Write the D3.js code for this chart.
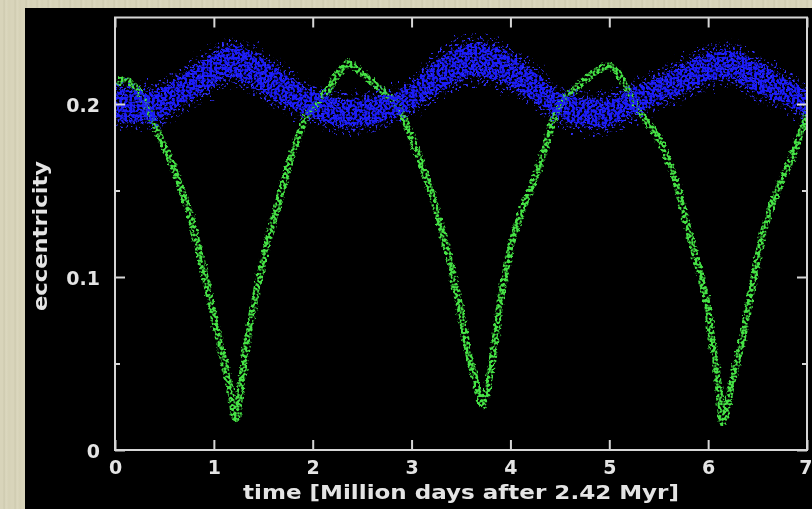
<!DOCTYPE html>
<html>
<head>
<meta charset="utf-8">
<script src="https://cdn.jsdelivr.net/npm/d3@7"></script>
<style>
  html, body { margin: 0; padding: 0; }
  body {
    width: 812px; height: 509px; overflow: hidden;
    background: repeating-linear-gradient(90deg, #d8d4ba 0px, #d8d4ba 3px, #cdc9ae 4px, #dcd8bf 6px, #d5d1b6 9px, #d8d4ba 11px);
  }
  svg { display: block; }
  .tick text, .label { font-family: "DejaVu Sans", sans-serif; font-weight: bold; fill: #e4e4e4; }
</style>
</head>
<body>
<svg id="chart" width="812" height="509"></svg>
<script>
// Time axis: million days after 2.42 Myr
const xTicks = [0, 1, 2, 3, 4, 5, 6, 7];
const xTickLabels = ["0", "1", "2", "3", "4", "5", "6", "7"];
const yTicks = [0, 0.1, 0.2];
const yTickLabels = ["0", "0.1", "0.2"];
const yMinorTicks = [0.05, 0.15];

// Inner orbit (green): eccentricity vs time
const greenT = [0, 0.1, 0.2, 0.3, 0.4, 0.5, 0.6, 0.7, 0.8, 0.9, 1.0, 1.1, 1.17, 1.22,
  1.28, 1.34, 1.44, 1.54, 1.64, 1.74, 1.84, 1.93, 2.02, 2.15, 2.29, 2.35,
  2.49, 2.66, 2.83, 2.92, 3.0, 3.08, 3.2, 3.3, 3.4, 3.5, 3.59, 3.66, 3.72,
  3.78, 3.84, 3.9, 3.97, 4.06, 4.16, 4.26, 4.36, 4.45, 4.55, 4.66, 4.8, 4.93, 5.0,
  5.08, 5.18, 5.27, 5.37, 5.5, 5.58, 5.68, 5.8, 5.9, 5.98, 6.04, 6.1, 6.15,
  6.24, 6.33, 6.43, 6.55, 6.69, 6.85, 6.93, 7.0];
const greenE = [0.212, 0.214, 0.210, 0.201, 0.188, 0.175, 0.162, 0.146, 0.127, 0.103, 0.077, 0.052, 0.034, 0.018,
  0.040, 0.064, 0.094, 0.119, 0.141, 0.161, 0.179, 0.192, 0.199, 0.208, 0.220, 0.224,
  0.218, 0.210, 0.201, 0.192, 0.181, 0.168, 0.149, 0.128, 0.106, 0.079, 0.052, 0.038, 0.026,
  0.040, 0.062, 0.087, 0.109, 0.129, 0.145, 0.159, 0.176, 0.194, 0.203, 0.209, 0.216, 0.221, 0.222,
  0.218, 0.209, 0.199, 0.191, 0.180, 0.170, 0.154, 0.127, 0.106, 0.087, 0.063, 0.040, 0.016,
  0.039, 0.060, 0.090, 0.124, 0.149, 0.169, 0.182, 0.196];

// Outer orbit (blue): lower and upper edge of the scattered band
const blueT = [0, 0.35, 0.68, 0.9, 1.18, 1.52, 1.95, 2.35, 2.86, 3.36, 3.64, 4.16, 4.49, 4.9, 5.33, 5.84, 6.18, 6.52, 6.85, 7.0];
const blueLow = [0.189, 0.188, 0.198, 0.205, 0.214, 0.204, 0.192, 0.185, 0.192, 0.208, 0.214, 0.204, 0.191, 0.185, 0.195, 0.208, 0.214, 0.204, 0.197, 0.191];
const blueHigh = [0.211, 0.209, 0.218, 0.227, 0.235, 0.227, 0.210, 0.204, 0.208, 0.231, 0.237, 0.224, 0.208, 0.204, 0.212, 0.227, 0.233, 0.225, 0.214, 0.208];

const svg = d3.select("#chart");
const W = 812, H = 509;
const plot = { left: 115, right: 807, top: 17.5, bottom: 450 };

const x = d3.scaleLinear().domain([0, 7]).range([plot.left, plot.right]);
const y = d3.scaleLinear().domain([0, 0.25]).range([plot.bottom, plot.top]);

const defs = svg.append("defs");
defs.append("clipPath").attr("id", "plotClip")
  .append("rect").attr("x", plot.left + 1).attr("y", plot.top + 1)
  .attr("width", plot.right - plot.left - 2).attr("height", plot.bottom - plot.top - 2);

// Speckle filter: jitter the shape and break it into small dots
function speckle(id, freq, disp, gain, offset, seed, blur) {
  const f = defs.append("filter").attr("id", id)
    .attr("filterUnits", "userSpaceOnUse")
    .attr("x", 0).attr("y", 0).attr("width", W).attr("height", H);
  f.append("feTurbulence").attr("type", "fractalNoise").attr("baseFrequency", 0.3)
    .attr("numOctaves", 2).attr("seed", seed).attr("result", "warp");
  f.append("feDisplacementMap").attr("in", "SourceGraphic").attr("in2", "warp")
    .attr("scale", disp).attr("xChannelSelector", "R").attr("yChannelSelector", "G").attr("result", "moved");
  f.append("feTurbulence").attr("type", "fractalNoise").attr("baseFrequency", freq)
    .attr("numOctaves", 1).attr("seed", seed + 11).attr("result", "grain");
  f.append("feColorMatrix").attr("in", "grain").attr("type", "matrix")
    .attr("values", `0 0 0 0 0  0 0 0 0 0  0 0 0 0 0  ${gain} 0 0 0 ${offset}`).attr("result", "mask");
  f.append("feComposite").attr("in", "moved").attr("in2", "mask").attr("operator", "in").attr("result", "dots");
  f.append("feGaussianBlur").attr("in", "dots").attr("stdDeviation", blur);
}
speckle("greenDots", 0.38, 6, 6, -2.3, 3, 0.5);
speckle("blueCore", 0.4, 12, 7, -2.75, 5, 0.4);
speckle("blueHalo", 0.45, 20, 8, -4.4, 9, 0.4);

const soft = defs.append("filter").attr("id", "soft");
soft.append("feGaussianBlur").attr("stdDeviation", 0.55);

// Black panel
svg.append("rect").attr("x", 25).attr("y", 8).attr("width", W - 25).attr("height", H - 8).attr("fill", "#000");

const data = svg.append("g").attr("clip-path", "url(#plotClip)");

// Green series
const greenPts = greenT.map((t, i) => [t, greenE[i]]);
const greenLine = d3.line().x(d => x(d[0])).y(d => y(d[1])).curve(d3.curveCatmullRom.alpha(0.5));
data.append("path").datum(greenPts)
  .attr("d", greenLine).attr("fill", "none")
  .attr("stroke", "#44e244").attr("stroke-width", 7).attr("stroke-linejoin", "round")
  .attr("filter", "url(#greenDots)");

// Blue series: sparse halo plus dense core
const bluePts = blueT.map((t, i) => ({ t, lo: blueLow[i], hi: blueHigh[i] }));
const haloArea = d3.area().x(d => x(d.t))
  .y0(d => y(d.lo - 0.003)).y1(d => y(d.hi + 0.003)).curve(d3.curveMonotoneX);
const coreArea = d3.area().x(d => x(d.t))
  .y0(d => y(d.lo + (d.hi - d.lo) * 0.08)).y1(d => y(d.hi - (d.hi - d.lo) * 0.08)).curve(d3.curveMonotoneX);
data.append("path").datum(bluePts).attr("d", haloArea)
  .attr("fill", "#3030ff").attr("filter", "url(#blueHalo)");
data.append("path").datum(bluePts).attr("d", coreArea)
  .attr("fill", "#1c1cf8").attr("filter", "url(#blueCore)");

// Axes with inward ticks on all four sides
const axes = svg.append("g").attr("filter", "url(#soft)");
const styleAxis = g => {
  g.select(".domain").remove();
  g.selectAll(".tick line").attr("stroke", "#d6d6d6").attr("stroke-width", 2);
  g.selectAll(".tick text").attr("font-size", 19);
};
axes.append("g").attr("transform", `translate(0,${plot.bottom})`)
  .call(d3.axisBottom(x).tickValues(xTicks).tickFormat((d, i) => xTickLabels[i])
    .tickSizeInner(-10).tickSizeOuter(0).tickPadding(11))
  .call(styleAxis)
  .call(g => g.selectAll(".tick text").filter(d => d === 7).attr("text-anchor", "end").attr("x", 5));
axes.append("g").attr("transform", `translate(0,${plot.top})`)
  .call(d3.axisTop(x).tickValues(xTicks).tickFormat("").tickSizeInner(-10).tickSizeOuter(0))
  .call(styleAxis);
axes.append("g").attr("transform", `translate(${plot.left},0)`)
  .call(d3.axisLeft(y).tickValues(yTicks).tickFormat((d, i) => yTickLabels[i])
    .tickSizeInner(-10).tickSizeOuter(0).tickPadding(15))
  .call(styleAxis)
  .call(g => g.selectAll(".tick text").attr("dy", "0.42em"));
axes.append("g").attr("transform", `translate(${plot.left},0)`)
  .call(d3.axisLeft(y).tickValues(yMinorTicks).tickFormat("").tickSizeInner(-5).tickSizeOuter(0))
  .call(styleAxis);
axes.append("g").attr("transform", `translate(${plot.right},0)`)
  .call(d3.axisRight(y).tickValues(yTicks).tickFormat("").tickSizeInner(-10).tickSizeOuter(0))
  .call(styleAxis);
axes.append("g").attr("transform", `translate(${plot.right},0)`)
  .call(d3.axisRight(y).tickValues(yMinorTicks).tickFormat("").tickSizeInner(-5).tickSizeOuter(0))
  .call(styleAxis);

// Frame
axes.append("rect")
  .attr("x", plot.left).attr("y", plot.top)
  .attr("width", plot.right - plot.left).attr("height", plot.bottom - plot.top)
  .attr("fill", "none").attr("stroke", "#d6d6d6").attr("stroke-width", 2);

// Axis titles
axes.append("text").attr("class", "label")
  .attr("x", (plot.left + plot.right) / 2).attr("y", 499)
  .attr("text-anchor", "middle").attr("font-size", 19)
  .attr("textLength", 436).attr("lengthAdjust", "spacingAndGlyphs")
  .text("time [Million days after 2.42 Myr]");
axes.append("text").attr("class", "label")
  .attr("transform", "translate(47,236) rotate(-90)")
  .attr("text-anchor", "middle").attr("font-size", 19)
  .attr("textLength", 150).attr("lengthAdjust", "spacingAndGlyphs")
  .text("eccentricity");
</script>
</body>
</html>
